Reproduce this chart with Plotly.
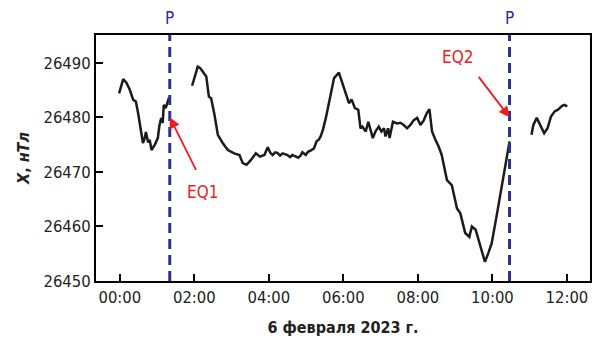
import plotly.graph_objects as go

# Segment 1 (hours, nT)
seg1_h = [-0.02, 0.09, 0.18, 0.27, 0.36, 0.43, 0.49, 0.55, 0.62, 0.66, 0.70, 0.76, 0.80, 0.85, 0.94, 1.02, 1.06, 1.11, 1.15, 1.18, 1.23, 1.32]
seg1_v = [26484.4, 26487.0, 26486.3, 26485.0, 26483.2, 26482.9, 26480.8, 26478.0, 26475.3, 26476.0, 26477.3, 26475.4, 26475.9, 26474.0, 26475.0, 26476.2, 26478.4, 26479.9, 26479.0, 26482.3, 26481.7, 26483.6]

# Segment 2
seg2_h = [1.94, 2.03, 2.09, 2.16, 2.23, 2.32, 2.39, 2.45, 2.54, 2.63, 2.76, 2.90, 3.07, 3.21, 3.30, 3.40, 3.52, 3.65,
          3.76, 3.88, 3.97, 4.04, 4.10, 4.17, 4.23, 4.30, 4.37, 4.44, 4.50, 4.57, 4.63, 4.70, 4.79, 4.85, 4.90, 4.99,
          5.05, 5.12, 5.21, 5.28, 5.34, 5.39, 5.45, 5.53, 5.60, 5.66, 5.75, 5.88, 5.97, 6.08, 6.15, 6.22, 6.31, 6.40,
          6.46, 6.51, 6.60, 6.67, 6.73, 6.79, 6.86, 6.95, 7.02, 7.09, 7.13, 7.20, 7.24, 7.33, 7.44, 7.53, 7.62, 7.71,
          7.80, 7.89, 7.98, 8.07, 8.16, 8.24, 8.31, 8.38, 8.47, 8.56, 8.64, 8.78, 8.91, 9.05, 9.14, 9.27, 9.38, 9.45,
          9.55, 9.64, 9.73, 9.80, 9.89, 9.98, 10.11, 10.25, 10.36, 10.41, 10.46]
seg2_v = [26485.8, 26488.1, 26489.3, 26489.0, 26488.4, 26487.5, 26483.8, 26483.5, 26480.5, 26476.8, 26475.3, 26474.0,
          26473.4, 26473.1, 26471.6, 26471.3, 26472.2, 26473.4, 26472.8, 26473.1, 26474.5, 26473.5, 26473.1, 26473.6,
          26473.5, 26473.0, 26473.4, 26473.2, 26473.1, 26472.7, 26473.1, 26472.9, 26472.6, 26473.0, 26473.6, 26473.1,
          26473.7, 26473.9, 26474.3, 26475.6, 26475.9, 26476.5, 26477.7, 26479.9, 26482.3, 26484.4, 26487.2, 26488.2,
          26486.3, 26483.8, 26482.6, 26483.3, 26481.7, 26481.4, 26478.0, 26478.3, 26477.4, 26479.2, 26477.7, 26476.2,
          26477.4, 26478.3, 26477.4, 26478.0, 26476.5, 26478.0, 26476.2, 26479.2, 26478.9, 26479.0, 26478.6, 26478.0,
          26478.6, 26479.5, 26479.9, 26478.6, 26479.5, 26480.8, 26481.5, 26477.4, 26475.9, 26474.6, 26473.1, 26468.5,
          26467.6, 26463.3, 26462.4, 26458.8, 26458.1, 26460.0, 26459.4, 26457.2, 26455.1, 26453.5, 26455.1, 26456.9,
          26461.8, 26467.3, 26471.6, 26474.3, 26475.6]

# Segment 3
seg3_h = [11.05, 11.10, 11.19, 11.28, 11.39, 11.48, 11.57, 11.67, 11.76, 11.87, 11.94, 12.01]
seg3_v = [26476.8, 26478.6, 26479.9, 26478.6, 26477.1, 26478.0, 26480.1, 26481.1, 26481.4, 26482.1, 26482.3, 26482.0]

# Events
eq_times = [1.34, 10.46]
eq_labels = ["EQ1", "EQ2"]
eq_arrow_value = 26480

tick_hours = [0, 2, 4, 6, 8, 10, 12]
tick_text = ["00:00", "02:00", "04:00", "06:00", "08:00", "10:00", "12:00"]
y_ticks = [26450, 26460, 26470, 26480, 26490]

FONT = "DejaVu Sans Condensed, Liberation Sans Narrow, sans-serif"
LINE = "#1b1b1b"
BLUE = "#2b2f96"
RED = "#ec1c24"

fig = go.Figure()
for h, v in [(seg1_h, seg1_v), (seg2_h, seg2_v), (seg3_h, seg3_v)]:
    fig.add_trace(go.Scatter(x=h, y=v, mode="lines", line=dict(color=LINE, width=2.5),
                             showlegend=False, hoverinfo="skip"))

for t in eq_times:
    fig.add_shape(type="line", x0=t, x1=t, xref="x", y0=0, y1=1, yref="paper",
                  line=dict(color=BLUE, width=3, dash="10px,6px"), layer="above")
    fig.add_annotation(x=t, xref="x", y=1, yref="paper", yanchor="bottom", yshift=5,
                       text="P", showarrow=False, font=dict(family=FONT, size=17, color=BLUE))

# Arrows
fig.add_annotation(x=eq_times[0], y=eq_arrow_value, xref="x", yref="y", text="", showarrow=True,
                   ax=27, ay=54, arrowhead=2, arrowsize=1.2, arrowwidth=1.8, arrowcolor=RED, standoff=0)
fig.add_annotation(x=eq_times[1], y=eq_arrow_value, xref="x", yref="y", text="", showarrow=True,
                   ax=-32, ay=-42, arrowhead=2, arrowsize=1.2, arrowwidth=1.8, arrowcolor=RED, standoff=0)
# Labels
fig.add_annotation(x=eq_times[0], y=eq_arrow_value, xref="x", yref="y", text=eq_labels[0], showarrow=False,
                   xshift=33, yshift=-75, font=dict(family=FONT, size=17, color=RED))
fig.add_annotation(x=eq_times[1], y=eq_arrow_value, xref="x", yref="y", text=eq_labels[1], showarrow=False,
                   xshift=-52, yshift=60, font=dict(family=FONT, size=17, color=RED))

axis_common = dict(showline=True, linecolor="black", linewidth=2, mirror=True, ticks="inside",
                   ticklen=7, tickwidth=2, tickcolor="black", showgrid=False, zeroline=False,
                   tickfont=dict(family=FONT, size=16.5, color="#222"))

fig.update_layout(
    width=596, height=338,
    margin=dict(l=96, r=4, t=35, b=57),
    paper_bgcolor="white", plot_bgcolor="white",
    xaxis=dict(range=[-0.64, 12.62], tickvals=tick_hours, ticktext=tick_text,
               title=dict(text="<b>6 февраля 2023 г.</b>", font=dict(family=FONT, size=16, color="#222"), standoff=16),
               **axis_common),
    yaxis=dict(range=[26450, 26495.1], tickvals=y_ticks, tickformat="d",
               title=dict(text="<b><i>X</i>, <i>нТл</i></b>", font=dict(family=FONT, size=16, color="#222"), standoff=10),
               **axis_common),
)

fig.write_html("out.html")
